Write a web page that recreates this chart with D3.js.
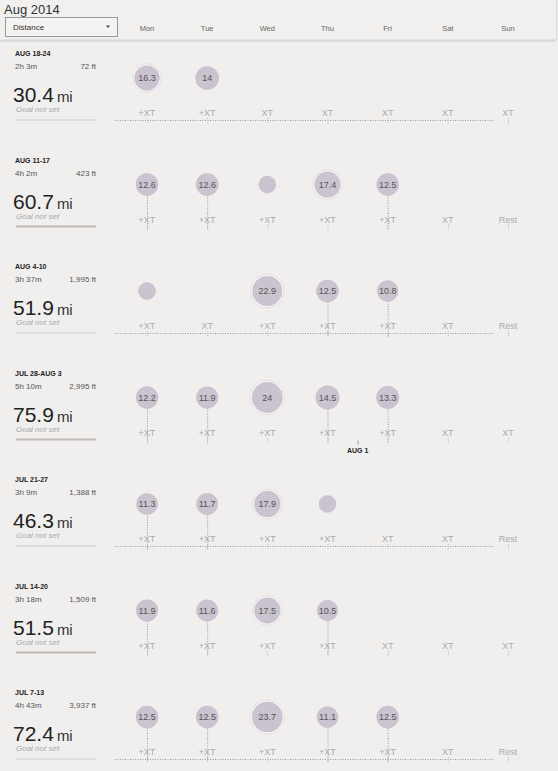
<!DOCTYPE html>
<html>
<head>
<meta charset="utf-8">
<script src="https://cdn.jsdelivr.net/npm/d3@7/dist/d3.min.js"></script>
<style>
  body { margin: 0; background: #f0efee; }
  svg { display: block; font-family: "Liberation Sans", Arial, sans-serif; }
  .daylabel { font-size: 7.5px; fill: #666; }
  .weeklabel { font-size: 7px; font-weight: bold; fill: #222; }
  .stat { font-size: 8px; fill: #555; }
  .total { font-size: 21px; fill: #222; }
  .unit { font-size: 15px; fill: #333; }
  .goal { font-size: 8px; font-style: italic; fill: #aaa; }
  .tag { font-size: 9px; fill: #aaa; }
  .runval { font-size: 9px; fill: #555; }
  .stem { stroke: #999; stroke-dasharray: 1,1.5; }
  .weekline { stroke: #999; stroke-dasharray: 1,1.5; }
</style>
</head>
<body>
<div id="chart"></div>
<script>

var days = ["Mon", "Tue", "Wed", "Thu", "Fri", "Sat", "Sun"];

var weekNames = ["AUG 18-24", "AUG 11-17", "AUG 4-10", "JUL 28-AUG 3", "JUL 21-27", "JUL 14-20", "JUL 7-13"];
var weekTimes = ["2h 3m", "4h 2m", "3h 37m", "5h 10m", "3h 9m", "3h 18m", "4h 43m"];
var weekClimb = ["72 ft", "423 ft", "1,995 ft", "2,995 ft", "1,388 ft", "1,509 ft", "3,937 ft"];
var weekTotals = ["30.4", "60.7", "51.9", "75.9", "46.3", "51.5", "72.4"];

// miles per day, null = no run
var runs = [
  [16.3, 14, null, null, null, null, null],
  [12.6, 12.6, 5.6, 17.4, 12.5, null, null],
  [5.7, null, 22.9, 12.5, 10.8, null, null],
  [12.2, 11.9, 24, 14.5, 13.3, null, null],
  [11.3, 11.7, 17.9, 5.4, null, null, null],
  [11.9, 11.6, 17.5, 10.5, null, null, null],
  [12.5, 12.5, 23.7, 11.1, 12.5, null, null]
];

var tags = [
  ["+XT", "+XT", "XT", "XT", "XT", "XT", "XT"],
  ["+XT", "+XT", "+XT", "+XT", "+XT", "XT", "Rest"],
  ["+XT", "XT", "+XT", "+XT", "+XT", "XT", "Rest"],
  ["+XT", "+XT", "+XT", "+XT", "+XT", "XT", "XT"],
  ["+XT", "+XT", "+XT", "+XT", "XT", "XT", "Rest"],
  ["+XT", "+XT", "+XT", "+XT", "XT", "XT", "XT"],
  ["+XT", "+XT", "+XT", "+XT", "+XT", "XT", "Rest"]
];

var hasStems = [false, true, true, true, true, true, true];
var hasBaseline = [true, false, true, false, true, false, true];

var monthMark = { week: 3, label: "AUG 1" };

/////////////////////////////////////////////////////////////////////

var width = 558, height = 771;

var svg = d3.select("#chart").append("svg")
  .attr("width", width)
  .attr("height", height);

var x = d3.scalePoint()
  .domain(days)
  .range([147, 508]);

var y = d3.scaleLinear()
  .domain([0, weekNames.length - 1])
  .range([50, 689]);

var r = d3.scaleLinear()
  .domain([0, 25])
  .range([6.5, 15.5]);

// Header
svg.append("rect")
  .attr("x", 0).attr("y", 0)
  .attr("width", 556).attr("height", 40)
  .attr("fill", "#f1f0ef");

svg.append("line")
  .attr("x1", 0).attr("x2", 556)
  .attr("y1", 40.5).attr("y2", 40.5)
  .attr("stroke", "#d6d4d3").attr("stroke-width", 2);
svg.append("line")
  .attr("x1", 0).attr("x2", 556)
  .attr("y1", 42).attr("y2", 42)
  .attr("stroke", "#e4e2e1").attr("stroke-width", 1);

svg.append("line")
  .attr("x1", 556.5).attr("x2", 556.5)
  .attr("y1", 0).attr("y2", 40)
  .attr("stroke", "#dddbd9");

svg.append("text")
  .attr("x", 4).attr("y", 14)
  .style("font-size", "13px")
  .attr("fill", "#333")
  .text("Aug 2014");

svg.append("rect")
  .attr("x", 5.5).attr("y", 17.5)
  .attr("width", 112).attr("height", 19)
  .attr("fill", "#f4f3f2")
  .attr("stroke", "#999");

svg.append("text")
  .attr("x", 13).attr("y", 30)
  .style("font-size", "8px")
  .attr("fill", "#333")
  .text("Distance");

svg.append("path")
  .attr("d", "M106,25.5 L110,25.5 L108,28 Z")
  .attr("fill", "#444");

svg.selectAll(".daylabel")
  .data(days)
  .enter().append("text")
  .attr("class", "daylabel")
  .attr("x", d => x(d))
  .attr("y", 31)
  .attr("text-anchor", "middle")
  .text(d => d);

// Weeks
var week = svg.selectAll(".week")
  .data(weekNames)
  .enter().append("g")
  .attr("class", "week")
  .attr("transform", (d, i) => "translate(0," + y(i) + ")");

week.append("text")
  .attr("class", "weeklabel")
  .attr("x", 15).attr("y", 6)
  .text(d => d);

week.append("text")
  .attr("class", "stat")
  .attr("x", 15).attr("y", 19)
  .text((d, i) => weekTimes[i]);

week.append("text")
  .attr("class", "stat")
  .attr("x", 96).attr("y", 19)
  .attr("text-anchor", "end")
  .text((d, i) => weekClimb[i]);

var tot = week.append("text")
  .attr("x", 13).attr("y", 52);
tot.append("tspan")
  .attr("class", "total")
  .text((d, i) => weekTotals[i]);
tot.append("tspan")
  .attr("class", "unit")
  .attr("dx", 3)
  .text("mi");

week.append("text")
  .attr("class", "goal")
  .attr("x", 16).attr("y", 62)
  .text("Goal not set");

week.append("line")
  .attr("x1", 16).attr("x2", 96)
  .attr("y1", 70).attr("y2", 70)
  .attr("stroke", (d, i) => i % 2 ? "#bdbab8" : "#cfcccb")
  .attr("stroke-width", (d, i) => i % 2 ? 2 : 1);

week.filter((d, i) => hasBaseline[i])
  .append("line")
  .attr("class", "weekline")
  .attr("x1", 115).attr("x2", 494)
  .attr("y1", 70.5).attr("y2", 70.5);

// Day cells
week.each(function(d, i) {
  var g = d3.select(this);
  var cells = days.map((day, j) => ({ day: day, value: runs[i][j], tag: tags[i][j] }));

  // stems under labelled runs
  if (hasStems[i]) {
    g.selectAll(".stem")
      .data(cells.filter(c => c.value != null && c.value >= 10 && c.value < 15))
      .enter().append("line")
      .attr("class", "stem")
      .attr("x1", c => x(c.day) + 0.5).attr("x2", c => x(c.day) + 0.5)
      .attr("y1", c => 28 + r(c.value)).attr("y2", 74);
  }

  // small ticks under tags
  g.selectAll(".tick")
    .data(cells)
    .enter().append("line")
    .attr("x1", c => x(c.day) + 0.5).attr("x2", c => x(c.day) + 0.5)
    .attr("y1", 68).attr("y2", 73)
    .attr("stroke", "#bbb")
    .attr("stroke-dasharray", "1,1");

  g.selectAll(".tag")
    .data(cells)
    .enter().append("text")
    .attr("class", "tag")
    .attr("x", c => x(c.day))
    .attr("y", 66)
    .attr("text-anchor", "middle")
    .text(c => c.tag);

  var run = g.selectAll(".run")
    .data(cells.filter(c => c.value != null))
    .enter().append("g")
    .attr("class", "run")
    .attr("transform", c => "translate(" + x(c.day) + ",28)");

  run.filter(c => c.value >= 15)
    .append("circle")
    .attr("r", c => r(c.value) + 2)
    .attr("fill", "#f6f5f5")
    .attr("stroke", "#dcd8dc")
    .attr("stroke-width", 0.8);

  run.append("circle")
    .attr("r", c => r(c.value))
    .attr("fill", "#cbc3cf")
    .attr("stroke", "#c2b9c6")
    .attr("stroke-width", 0.5);

  run.filter(c => c.value >= 10)
    .append("text")
    .attr("class", "runval")
    .attr("y", 3)
    .attr("text-anchor", "middle")
    .text(c => c.value);
});

// month boundary marker
var mark = svg.append("g")
  .attr("transform", "translate(" + ((x("Thu") + x("Fri")) / 2) + "," + y(monthMark.week) + ")");
mark.append("line")
  .attr("x1", 0.5).attr("x2", 0.5)
  .attr("y1", 71).attr("y2", 75)
  .attr("stroke", "#999");
mark.append("text")
  .attr("y", 83)
  .attr("text-anchor", "middle")
  .style("font-size", "7px")
  .style("font-weight", "bold")
  .attr("fill", "#222")
  .text(monthMark.label);

</script>
</body>
</html>
